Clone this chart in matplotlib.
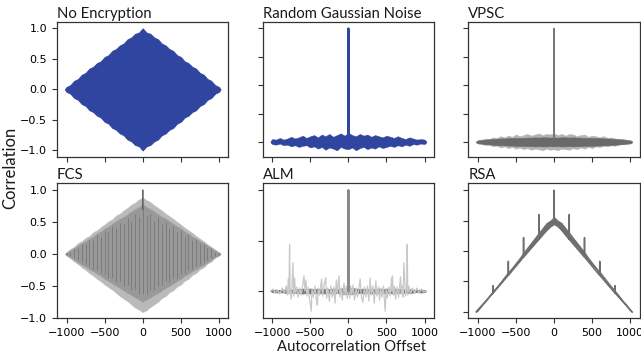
import matplotlib
matplotlib.use("Agg")
import matplotlib.pyplot as plt

# autocorrelation offsets used for every envelope below
offsets = [-1023, -1000, -950, -900, -850, -800, -750, -700, -650, -600, -550,
           -500, -450, -400, -350, -300, -250, -200, -150, -100, -50, 0,
           50, 100, 150, 200, 250, 300, 350, 400, 450, 500, 550, 600, 650,
           700, 750, 800, 850, 900, 950, 1000, 1023]

# No Encryption: envelope of the (very dense) autocorrelation
ne_hi = [0.0, 0.04, 0.07, 0.14, 0.17, 0.24, 0.27, 0.34, 0.37, 0.43, 0.46,
         0.53, 0.56, 0.63, 0.66, 0.72, 0.75, 0.82, 0.85, 0.91, 0.93, 1.0,
         0.93, 0.91, 0.85, 0.82, 0.75, 0.72, 0.66, 0.63, 0.56, 0.53, 0.46,
         0.43, 0.37, 0.34, 0.27, 0.24, 0.17, 0.14, 0.07, 0.04, 0.0]
ne_lo = [0.0, -0.04, -0.07, -0.14, -0.17, -0.24, -0.27, -0.34, -0.37, -0.43, -0.46,
         -0.53, -0.56, -0.63, -0.66, -0.72, -0.75, -0.82, -0.85, -0.91, -0.93, -1.0,
         -0.93, -0.91, -0.85, -0.82, -0.75, -0.72, -0.66, -0.63, -0.56, -0.53, -0.46,
         -0.43, -0.37, -0.34, -0.27, -0.24, -0.17, -0.14, -0.07, -0.04, 0.0]

# Random Gaussian Noise
rgn_hi = [-0.99, -0.95, -0.96, -0.93, -0.96, -0.94, -0.91, -0.94, -0.92, -0.89, -0.93,
          -0.90, -0.88, -0.92, -0.87, -0.90, -0.86, -0.91, -0.88, -0.85, -0.89, -0.84,
          -0.88, -0.90, -0.86, -0.89, -0.87, -0.91, -0.88, -0.90, -0.92, -0.89, -0.91,
          -0.93, -0.90, -0.93, -0.95, -0.92, -0.94, -0.96, -0.95, -0.96, -0.99]
rgn_lo = [-1.01, -1.04, -1.05, -1.03, -1.06, -1.05, -1.08, -1.06, -1.09, -1.07, -1.06,
          -1.10, -1.08, -1.12, -1.09, -1.14, -1.10, -1.12, -1.15, -1.09, -1.12, -1.13,
          -1.10, -1.15, -1.11, -1.09, -1.13, -1.10, -1.12, -1.08, -1.11, -1.09, -1.07,
          -1.09, -1.06, -1.08, -1.05, -1.07, -1.04, -1.05, -1.03, -1.04, -1.01]
rgn_peak_x = [-3, 0, 3]
rgn_peak_y = [-0.92, 1.0, -0.92]

# VPSC
vp_hi = [-0.99, -0.975, -0.97, -0.96, -0.955, -0.95, -0.945, -0.94, -0.94, -0.935, -0.935,
         -0.93, -0.93, -0.93, -0.925, -0.925, -0.92, -0.925, -0.92, -0.92, -0.925, -0.92,
         -0.925, -0.92, -0.92, -0.925, -0.92, -0.925, -0.925, -0.93, -0.93, -0.93, -0.935,
         -0.935, -0.94, -0.94, -0.945, -0.95, -0.955, -0.96, -0.97, -0.975, -0.99]
vp_lo = [-1.01, -1.025, -1.03, -1.04, -1.045, -1.05, -1.055, -1.06, -1.06, -1.065, -1.065,
         -1.07, -1.07, -1.07, -1.075, -1.075, -1.08, -1.075, -1.08, -1.08, -1.075, -1.08,
         -1.075, -1.08, -1.08, -1.075, -1.08, -1.075, -1.075, -1.07, -1.07, -1.07, -1.065,
         -1.065, -1.06, -1.06, -1.055, -1.05, -1.045, -1.04, -1.03, -1.025, -1.01]
vp_spk_hi = [-0.99, -0.97, -0.96, -0.94, -0.95, -0.92, -0.93, -0.90, -0.92, -0.89, -0.91,
             -0.87, -0.90, -0.88, -0.86, -0.89, -0.87, -0.85, -0.88, -0.86, -0.87, -0.85,
             -0.88, -0.86, -0.89, -0.86, -0.87, -0.90, -0.88, -0.87, -0.91, -0.89, -0.90,
             -0.92, -0.90, -0.93, -0.92, -0.94, -0.95, -0.94, -0.96, -0.97, -0.99]
vp_spk_lo = [-1.01, -1.03, -1.04, -1.06, -1.05, -1.08, -1.07, -1.10, -1.08, -1.11, -1.09,
             -1.12, -1.10, -1.13, -1.11, -1.14, -1.12, -1.13, -1.15, -1.12, -1.14, -1.13,
             -1.15, -1.12, -1.13, -1.14, -1.11, -1.13, -1.10, -1.12, -1.09, -1.11, -1.08,
             -1.09, -1.07, -1.08, -1.06, -1.07, -1.05, -1.04, -1.04, -1.03, -1.01]
vp_peak_x = [-2, 0, 2]
vp_peak_y = [-0.93, 1.0, -0.93]

# FCS
fcs_out_hi = [0.0, 0.03, 0.08, 0.11, 0.17, 0.20, 0.25, 0.28, 0.34, 0.37, 0.42,
              0.46, 0.51, 0.54, 0.60, 0.63, 0.68, 0.72, 0.77, 0.80, 0.85, 0.88,
              0.84, 0.81, 0.76, 0.72, 0.68, 0.63, 0.59, 0.55, 0.50, 0.46, 0.41,
              0.37, 0.33, 0.28, 0.24, 0.20, 0.15, 0.11, 0.07, 0.03, 0.0]
fcs_out_lo = [0.0, -0.03, -0.07, -0.12, -0.16, -0.21, -0.25, -0.30, -0.34, -0.39, -0.43,
              -0.48, -0.52, -0.56, -0.61, -0.66, -0.70, -0.74, -0.79, -0.84, -0.87, -0.91,
              -0.88, -0.83, -0.79, -0.75, -0.69, -0.66, -0.60, -0.57, -0.51, -0.48, -0.42,
              -0.39, -0.33, -0.30, -0.24, -0.21, -0.15, -0.12, -0.06, -0.03, 0.0]
fcs_mid_hi = [0.0, 0.02, 0.05, 0.09, 0.13, 0.17, 0.20, 0.24, 0.27, 0.32, 0.35,
              0.40, 0.43, 0.47, 0.51, 0.55, 0.58, 0.62, 0.66, 0.70, 0.73, 0.78,
              0.73, 0.70, 0.66, 0.62, 0.58, 0.55, 0.51, 0.47, 0.43, 0.40, 0.35,
              0.32, 0.27, 0.24, 0.20, 0.17, 0.13, 0.09, 0.05, 0.02, 0.0]
fcs_mid_lo = [0.0, -0.02, -0.05, -0.09, -0.13, -0.17, -0.20, -0.24, -0.27, -0.31, -0.34,
              -0.39, -0.42, -0.46, -0.50, -0.53, -0.57, -0.61, -0.64, -0.68, -0.71, -0.75,
              -0.71, -0.68, -0.64, -0.61, -0.57, -0.53, -0.50, -0.46, -0.42, -0.39, -0.34,
              -0.31, -0.27, -0.24, -0.20, -0.17, -0.13, -0.09, -0.05, -0.02, 0.0]
# dark streaks inside the FCS body
fcs_streak_hi = [0.0, 0.02, 0.03, 0.08, 0.09, 0.15, 0.15, 0.22, 0.21, 0.29, 0.27,
                 0.36, 0.34, 0.43, 0.40, 0.49, 0.46, 0.56, 0.52, 0.63, 0.58, 0.70,
                 0.59, 0.62, 0.52, 0.57, 0.46, 0.50, 0.40, 0.44, 0.34, 0.37, 0.27,
                 0.30, 0.21, 0.23, 0.15, 0.16, 0.09, 0.09, 0.03, 0.02, 0.0]
fcs_streak_lo = [0.0, -0.02, -0.03, -0.07, -0.10, -0.13, -0.16, -0.19, -0.23, -0.25, -0.30,
                 -0.31, -0.37, -0.37, -0.44, -0.43, -0.50, -0.49, -0.57, -0.55, -0.63, -0.62,
                 -0.62, -0.56, -0.57, -0.50, -0.49, -0.43, -0.44, -0.37, -0.37, -0.31, -0.30,
                 -0.25, -0.23, -0.19, -0.16, -0.13, -0.10, -0.07, -0.03, -0.02, 0.0]
fcs_peak_x = [-3, 0, 3]
fcs_peak_y = [0.7, 1.0, 0.7]

# ALM: sparse spikes around a flat baseline
alm_x = [-1023, -990, -960, -930, -900, -870, -840, -815, -800, -789, -780, -772, -765,
         -750, -740, -728, -718, -706, -695, -680, -660, -640, -620, -600, -583, -572,
         -557, -545, -530, -510, -487, -478, -460, -440, -420, -408, -395, -380, -351,
         -340, -325, -298, -285, -270, -250, -230, -210, -190, -175, -158, -145, -123,
         -110, -95, -80, -57, -45, -30, -15, 0, 15, 30, 45, 60, 80, 100, 120, 140, 154,
         170, 190, 210, 230, 250, 270, 285, 300, 320, 340, 360, 375, 395, 410, 425, 440,
         460, 483, 495, 510, 530, 550, 566, 572, 579, 590, 605, 620, 640, 660, 684, 695,
         706, 718, 728, 741, 752, 765, 772, 780, 795, 815, 840, 870, 900, 930, 960, 990, 1023]
alm_y = [0.0, 0.02, -0.02, 0.01, -0.03, 0.03, -0.02, 0.05, -0.04, 0.12, -0.03, 0.46, 0.0,
         -0.08, 0.05, 0.28, -0.05, 0.13, -0.02, 0.04, -0.06, 0.03, -0.04, 0.06, 0.15, 0.0,
         0.11, -0.05, 0.04, -0.08, -0.20, 0.02, -0.06, 0.05, -0.09, -0.14, 0.03, -0.04, 0.12,
         -0.05, 0.04, 0.13, -0.07, 0.03, -0.10, 0.05, -0.06, 0.04, -0.12, 0.11, -0.03, 0.15,
         -0.06, 0.03, -0.09, 0.08, -0.04, 0.05, -0.07, 0.10, -0.07, 0.05, -0.04, 0.06, -0.09,
         0.03, -0.06, 0.04, 0.12, -0.05, -0.11, 0.04, -0.06, 0.05, -0.10, 0.13, -0.04, 0.05,
         -0.12, 0.10, -0.05, 0.04, -0.09, 0.03, -0.06, 0.05, -0.20, 0.02, -0.07, 0.04, -0.05,
         0.13, 0.0, 0.15, -0.04, 0.05, -0.08, 0.04, -0.06, 0.14, -0.03, 0.05, -0.06, 0.28,
         0.10, -0.05, 0.03, 0.46, -0.04, 0.05, -0.03, 0.03, -0.02, 0.03, -0.02, 0.02, -0.01, 0.0]
alm_base_hi = [0.0, 0.01, 0.015, 0.01, 0.015, 0.02, 0.015, 0.02, 0.02, 0.025, 0.02,
               0.025, 0.02, 0.025, 0.02, 0.025, 0.02, 0.025, 0.02, 0.025, 0.03, 0.03,
               0.03, 0.025, 0.02, 0.025, 0.02, 0.025, 0.02, 0.025, 0.02, 0.025, 0.02,
               0.025, 0.02, 0.02, 0.015, 0.02, 0.015, 0.01, 0.015, 0.01, 0.0]
alm_base_lo = [0.0, -0.01, -0.015, -0.01, -0.015, -0.02, -0.015, -0.02, -0.02, -0.025, -0.02,
               -0.025, -0.02, -0.025, -0.02, -0.025, -0.02, -0.025, -0.02, -0.025, -0.03, -0.03,
               -0.03, -0.025, -0.02, -0.025, -0.02, -0.025, -0.02, -0.025, -0.02, -0.025, -0.02,
               -0.025, -0.02, -0.02, -0.015, -0.02, -0.015, -0.01, -0.015, -0.01, 0.0]
alm_peak_x = [-3, 0, 3]
alm_peak_y = [0.0, 1.0, 0.0]

# RSA: triangle with spikes every 200 offsets
rsa_x = [-1023, -801, -800, -799, -601, -600, -599, -401, -400, -399, -201, -200, -199,
         -1, 0, 1, 199, 200, 201, 399, 400, 401, 599, 600, 601, 799, 800, 801, 1023]
rsa_y = [-1.0, -0.69, -0.57, -0.69, -0.40, -0.17, -0.40, -0.10, 0.22, -0.10, 0.19, 0.60, 0.19,
         0.50, 1.0, 0.50, 0.19, 0.60, 0.19, -0.10, 0.22, -0.10, -0.40, -0.17, -0.40,
         -0.69, -0.57, -0.69, -1.0]
rsa_hi = [-1.0, -0.96, -0.88, -0.81, -0.73, -0.65, -0.58, -0.50, -0.42, -0.34, -0.27,
          -0.19, -0.11, -0.02, 0.06, 0.14, 0.22, 0.30, 0.38, 0.46, 0.50, 0.56,
          0.50, 0.46, 0.38, 0.30, 0.22, 0.14, 0.06, -0.02, -0.11, -0.19, -0.27,
          -0.34, -0.42, -0.50, -0.58, -0.65, -0.73, -0.81, -0.88, -0.96, -1.0]
rsa_lo = [-1.0, -0.98, -0.90, -0.83, -0.75, -0.68, -0.60, -0.53, -0.45, -0.38, -0.30,
          -0.23, -0.16, -0.08, -0.01, 0.06, 0.13, 0.20, 0.27, 0.34, 0.40, 0.44,
          0.40, 0.34, 0.27, 0.20, 0.13, 0.06, -0.01, -0.08, -0.16, -0.23, -0.30,
          -0.38, -0.45, -0.53, -0.60, -0.68, -0.75, -0.83, -0.90, -0.98, -1.0]

titles = ["No Encryption", "Random Gaussian Noise", "VPSC", "FCS", "ALM", "RSA"]
xticks = [-1000, -500, 0, 500, 1000]
yticks = [-1.0, -0.5, 0.0, 0.5, 1.0]

blue = "#2f459f"
label_font = ["Lato", "DejaVu Sans"]

fig, axes = plt.subplots(2, 3, figsize=(6.41, 3.58), dpi=100, sharex=True)
fig.subplots_adjust(left=0.089, right=0.998, top=0.938, bottom=0.112,
                    wspace=0.2, hspace=0.2)

ax = axes[0, 0]
ax.fill_between(offsets, ne_lo, ne_hi, color=blue, lw=0.6, edgecolor=blue)
ax.set_ylim(-1.1, 1.1)

ax = axes[0, 1]
ax.fill_between(offsets, rgn_lo, rgn_hi, color=blue, lw=0.3, edgecolor=blue)
ax.plot(rgn_peak_x, rgn_peak_y, color=blue, lw=1.6)
ax.set_ylim(-1.26, 1.11)

ax = axes[0, 2]
ax.fill_between(offsets, vp_spk_lo, vp_spk_hi, color="#b3b3b3", lw=0.3, edgecolor="#b3b3b3")
ax.fill_between(offsets, vp_lo, vp_hi, color="#6a6a6a", lw=0.4, edgecolor="#6a6a6a")
ax.plot(vp_peak_x, vp_peak_y, color="#777777", lw=0.9)
ax.set_ylim(-1.26, 1.11)

ax = axes[1, 0]
ax.fill_between(offsets, fcs_out_lo, fcs_out_hi, color="#bababa", lw=0.3, edgecolor="#bababa")
ax.fill_between(offsets, fcs_mid_lo, fcs_mid_hi, color="#999999", lw=0.3, edgecolor="#999999")
ax.vlines(offsets, fcs_streak_lo, fcs_streak_hi, color="#555555", lw=0.6, alpha=0.5)
ax.plot(fcs_peak_x, fcs_peak_y, color="#666666", lw=0.9)
ax.set_ylim(-1.0, 1.1)

ax = axes[1, 1]
ax.plot(alm_x, alm_y, color="#c8c8c8", lw=0.9)
ax.fill_between(offsets, alm_base_lo, alm_base_hi, color="#7a7a7a", lw=0.5, edgecolor="#7a7a7a")
ax.plot(alm_peak_x, alm_peak_y, color="#8a8a8a", lw=1.6)
ax.set_ylim(-0.266, 1.065)
ax.set_yticks([0.0, 0.5, 1.0])

ax = axes[1, 2]
ax.fill_between(offsets, rsa_lo, rsa_hi, color="#6e6e6e", lw=0.6, edgecolor="#6e6e6e")
ax.plot(rsa_x, rsa_y, color="#6e6e6e", lw=1.1)
ax.set_ylim(-1.1, 1.11)

for i, ax in enumerate(axes.flat):
    ax.set_title(titles[i], loc="left", fontsize=10.7, family=label_font,
                 color="#1a1a1a", pad=3)
    ax.set_xlim(-1125, 1125)
    ax.set_xticks(xticks)
    if ax is not axes[1, 1]:
        ax.set_yticks(yticks)
    ax.tick_params(labelsize=8, length=3.5, width=0.8, color="#333333")
    for s in ax.spines.values():
        s.set_color("#333333")
        s.set_linewidth(0.9)
    if i % 3 != 0:
        ax.tick_params(labelleft=False)

fig.text(0.016, 0.53, "Correlation", rotation=90, ha="center", va="center",
         fontsize=12, family=label_font, color="#1a1a1a")
fig.text(0.548, 0.03, "Autocorrelation Offset", ha="center", va="center",
         fontsize=10.7, family=label_font, color="#1a1a1a")

fig.savefig("out.png", dpi=100)
